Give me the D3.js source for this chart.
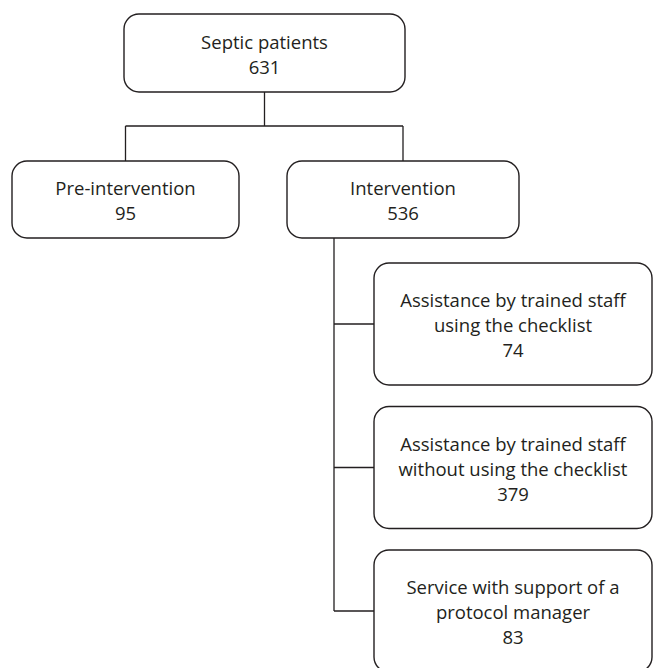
<!DOCTYPE html>
<html><head><meta charset="utf-8">
<script src="https://cdn.jsdelivr.net/npm/d3@7"></script>
<style>html,body{margin:0;padding:0;background:#fff;}svg{display:block;}</style>
</head><body>
<script>
// ---- data ----
const nodeLines = [
  ["Septic patients"],
  ["Pre-intervention"],
  ["Intervention"],
  ["Assistance by trained staff", "using the checklist"],
  ["Assistance by trained staff", "without using the checklist"],
  ["Service with support of a", "protocol manager"]
];
const nodeCounts = [631, 95, 536, 74, 379, 83];
const nodeParents = [null, 0, 0, 2, 2, 2];
const nodeLevels = [0, 1, 1, 2, 2, 2];

// ---- layout ----
const W = 653, H = 668;
const ink = "#231f20";
const font = "'Open Sans', sans-serif";
const fs = 18.5, lh = 25, rx = 15;

const svg = d3.select("body").append("svg").attr("width", W).attr("height", H);

const boxes = [];
boxes[0] = {x: 124, y: 14, w: 281, h: 78};
boxes[1] = {x: 12, y: 161, w: 227, h: 77};
boxes[2] = {x: 287, y: 161, w: 232, h: 77};
const yBand = d3.scaleBand().domain([3, 4, 5]).range([263, 672]).paddingInner(0.15).paddingOuter(0);
[3, 4, 5].forEach(i => { boxes[i] = {x: 374, y: yBand(i), w: 278, h: yBand.bandwidth()}; });

const g = svg.append("g");
const path = d3.path();
// root to level 1
const root = boxes[0];
const rootCx = root.x + root.w / 2;
const branchY = 126;
path.moveTo(rootCx, root.y + root.h); path.lineTo(rootCx, branchY);
const l1 = [1, 2].map(i => boxes[i].x + boxes[i].w / 2);
path.moveTo(d3.min(l1), branchY); path.lineTo(d3.max(l1), branchY);
[1, 2].forEach(i => { const cx = boxes[i].x + boxes[i].w / 2; path.moveTo(cx, branchY); path.lineTo(cx, boxes[i].y); });
// intervention trunk
const trunkX = 334;
const kids = nodeParents.map((p, i) => p === 2 ? i : -1).filter(i => i >= 0);
const lastCy = boxes[kids[kids.length - 1]].y + boxes[kids[kids.length - 1]].h / 2;
path.moveTo(trunkX, boxes[2].y + boxes[2].h); path.lineTo(trunkX, lastCy);
kids.forEach(i => { const cy = boxes[i].y + boxes[i].h / 2; path.moveTo(trunkX, cy); path.lineTo(boxes[i].x, cy); });
g.append("path").attr("d", path.toString()).attr("fill", "none").attr("stroke", ink).attr("stroke-width", 1.3);

const nodes = g.selectAll("g.node").data(d3.range(nodeCounts.length)).join("g").attr("class", "node");
nodes.append("rect")
  .attr("x", i => boxes[i].x).attr("y", i => boxes[i].y)
  .attr("width", i => boxes[i].w).attr("height", i => boxes[i].h)
  .attr("rx", rx).attr("ry", rx)
  .attr("fill", "#fff").attr("stroke", ink).attr("stroke-width", 1.4);
nodes.each(function(i) {
  const lines = nodeLines[i].concat([String(nodeCounts[i])]);
  const b = boxes[i];
  const cx = b.x + b.w / 2, cy = b.y + b.h / 2 + 1.5;
  const t = d3.select(this).append("text")
    .attr("text-anchor", "middle").attr("font-family", font).attr("font-size", fs).attr("fill", ink);
  lines.forEach((ln, k) => {
    t.append("tspan").attr("x", cx)
      .attr("y", cy + (k - (lines.length - 1) / 2) * lh + fs * 0.36)
      .text(ln);
  });
});
</script>
</body></html>
